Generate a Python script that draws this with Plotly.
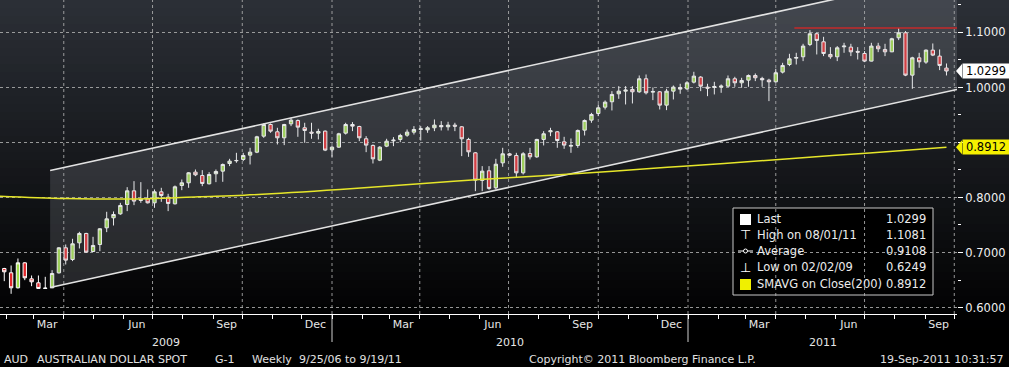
import plotly.graph_objects as go
import pandas as pd

# ---------------- data ----------------
first_week = "2009-01-30"
open_ = [0.6709, 0.6631, 0.6358, 0.6812, 0.6521, 0.6449, 0.6346, 0.6358, 0.6630, 0.7085,
         0.6873, 0.7176, 0.7346, 0.7018, 0.7146, 0.7449, 0.7631, 0.7703, 0.7873, 0.8121,
         0.7946, 0.7976, 0.7903, 0.8103, 0.8006, 0.7885, 0.8218, 0.8267, 0.8461, 0.8400,
         0.8249, 0.8431, 0.8479, 0.8618, 0.8667, 0.8691, 0.8770, 0.8824, 0.9115, 0.9327,
         0.9194, 0.9085, 0.9339, 0.9400, 0.9267, 0.9188, 0.9170, 0.9206, 0.8867, 0.8915,
         0.9170, 0.9327, 0.9291, 0.9067, 0.8946, 0.8679, 0.8933, 0.9030, 0.9055, 0.9133,
         0.9188, 0.9236, 0.9230, 0.9267, 0.9309, 0.9285, 0.9315, 0.9285, 0.9055, 0.8812,
         0.8310, 0.8485, 0.8176, 0.8630, 0.8794, 0.8764, 0.8448, 0.8800, 0.8739, 0.9055,
         0.9194, 0.9194, 0.9012, 0.8933, 0.8946, 0.9224, 0.9406, 0.9527, 0.9642, 0.9740,
         0.9885, 0.9933, 0.9964, 0.9921, 1.0158, 0.9915, 0.9921, 0.9679, 0.9933, 1.0000,
         0.9976, 1.0097, 1.0188, 1.0006, 1.0000, 1.0006, 1.0024, 1.0158, 1.0085, 1.0133,
         1.0218, 1.0164, 1.0133, 1.0103, 1.0279, 1.0418, 1.0533, 1.0558, 1.0782, 1.0976,
         1.0830, 1.0600, 1.0558, 1.0739, 1.0733, 1.0655, 1.0618, 1.0479, 1.0752, 1.0691,
         1.0648, 1.0903, 1.0994, 1.0224, 1.0539, 1.0461, 1.0679, 1.0570, 1.0352]
high_ = [0.6721, 0.6764, 0.6891, 0.6824, 0.6582, 0.6582, 0.6558, 0.6679, 0.7097, 0.7146,
         0.7249, 0.7376, 0.7358, 0.7285, 0.7443, 0.7740, 0.7746, 0.7903, 0.8188, 0.8297,
         0.8279, 0.8146, 0.8146, 0.8176, 0.8067, 0.8218, 0.8327, 0.8461, 0.8509, 0.8497,
         0.8461, 0.8509, 0.8618, 0.8703, 0.8812, 0.8812, 0.8903, 0.9121, 0.9346, 0.9346,
         0.9267, 0.9339, 0.9449, 0.9418, 0.9358, 0.9358, 0.9249, 0.9218, 0.8933, 0.9176,
         0.9358, 0.9370, 0.9303, 0.9115, 0.8964, 0.8933, 0.9067, 0.9097, 0.9158, 0.9236,
         0.9297, 0.9297, 0.9297, 0.9418, 0.9388, 0.9376, 0.9358, 0.9297, 0.9085, 0.8824,
         0.8570, 0.8570, 0.8703, 0.8903, 0.8812, 0.8812, 0.8824, 0.8903, 0.9067, 0.9206,
         0.9267, 0.9206, 0.9103, 0.9073, 0.9236, 0.9418, 0.9539, 0.9691, 0.9764, 0.9933,
         1.0024, 1.0024, 1.0024, 1.0218, 1.0236, 1.0000, 0.9933, 0.9976, 1.0036, 1.0067,
         1.0115, 1.0285, 1.0206, 1.0067, 1.0103, 1.0055, 1.0218, 1.0194, 1.0176, 1.0236,
         1.0255, 1.0194, 1.0158, 1.0339, 1.0448, 1.0612, 1.0630, 1.0794, 1.1042, 1.0994,
         1.0921, 1.0733, 1.0752, 1.0812, 1.0794, 1.0733, 1.0661, 1.0812, 1.0812, 1.0794,
         1.0903, 1.1081, 1.1024, 1.0558, 1.0630, 1.0691, 1.0800, 1.0691, 1.0436]
low_ = [0.6479, 0.6249, 0.6346, 0.6497, 0.6388, 0.6340, 0.6340, 0.6352, 0.6618, 0.6782,
        0.6843, 0.7073, 0.6994, 0.7012, 0.7024, 0.7370, 0.7491, 0.7685, 0.7752, 0.7861,
        0.7903, 0.7891, 0.7812, 0.7921, 0.7752, 0.7873, 0.8133, 0.8176, 0.8388, 0.8206,
        0.8237, 0.8279, 0.8285, 0.8570, 0.8631, 0.8661, 0.8600, 0.8806, 0.9085, 0.9176,
        0.8964, 0.8952, 0.9297, 0.9103, 0.8994, 0.9067, 0.9055, 0.8843, 0.8739, 0.8903,
        0.9145, 0.9206, 0.9024, 0.8824, 0.8618, 0.8661, 0.8915, 0.8933, 0.9006, 0.9103,
        0.9145, 0.9036, 0.9176, 0.9206, 0.9218, 0.9218, 0.9206, 0.8752, 0.8739, 0.8115,
        0.8115, 0.8140, 0.8145, 0.8558, 0.8752, 0.8358, 0.8418, 0.8691, 0.8721, 0.8946,
        0.9115, 0.8903, 0.8885, 0.8812, 0.8903, 0.9127, 0.9358, 0.9479, 0.9600, 0.9582,
        0.9794, 0.9691, 0.9709, 0.9903, 0.9873, 0.9770, 0.9600, 0.9588, 0.9782, 0.9885,
        0.9952, 1.0073, 0.9933, 0.9842, 0.9873, 0.9903, 1.0012, 1.0012, 0.9994, 1.0012,
        1.0115, 1.0012, 0.9752, 1.0085, 1.0255, 1.0388, 1.0418, 1.0479, 1.0752, 1.0600,
        1.0570, 1.0521, 1.0479, 1.0630, 1.0570, 1.0509, 1.0461, 1.0473, 1.0642, 1.0570,
        1.0642, 1.0861, 1.0206, 0.9976, 1.0358, 1.0430, 1.0570, 1.0315, 1.0218]
close_ = [0.6649, 0.6358, 0.6812, 0.6540, 0.6467, 0.6346, 0.6352, 0.6618, 0.7085, 0.6861,
          0.7158, 0.7346, 0.7006, 0.7128, 0.7431, 0.7612, 0.7691, 0.7855, 0.8121, 0.7934,
          0.7964, 0.7903, 0.8103, 0.8037, 0.7891, 0.8194, 0.8267, 0.8449, 0.8412, 0.8255,
          0.8418, 0.8473, 0.8600, 0.8661, 0.8673, 0.8764, 0.8824, 0.9103, 0.9327, 0.9206,
          0.9085, 0.9327, 0.9406, 0.9279, 0.9218, 0.9170, 0.9200, 0.8861, 0.8915, 0.9158,
          0.9327, 0.9297, 0.9085, 0.8952, 0.8703, 0.8915, 0.9024, 0.9042, 0.9127, 0.9188,
          0.9236, 0.9249, 0.9267, 0.9315, 0.9285, 0.9315, 0.9297, 0.9067, 0.8830, 0.8315,
          0.8479, 0.8165, 0.8605, 0.8794, 0.8770, 0.8448, 0.8794, 0.8739, 0.9055, 0.9158,
          0.9212, 0.9036, 0.8952, 0.8946, 0.9218, 0.9400, 0.9509, 0.9630, 0.9733, 0.9873,
          0.9933, 0.9952, 0.9921, 1.0158, 0.9903, 0.9927, 0.9679, 0.9933, 1.0006, 0.9970,
          1.0085, 1.0206, 1.0024, 0.9988, 1.0018, 1.0024, 1.0158, 1.0085, 1.0127, 1.0218,
          1.0176, 1.0139, 1.0103, 1.0267, 1.0400, 1.0521, 1.0545, 1.0752, 1.0976, 1.0855,
          1.0618, 1.0558, 1.0721, 1.0752, 1.0648, 1.0642, 1.0479, 1.0752, 1.0703, 1.0648,
          1.0885, 1.0994, 1.0224, 1.0539, 1.0467, 1.0679, 1.0588, 1.0400, 1.0299]
week_dates = pd.date_range(first_week, periods=len(close_), freq="7D")

sma_dates = ["2009-01-25", "2009-04-03", "2009-06-27", "2009-08-17", "2009-10-03",
             "2010-01-09", "2010-04-01", "2010-06-01", "2010-08-09", "2010-10-16",
             "2010-12-11", "2011-02-07", "2011-04-25", "2011-07-06", "2011-09-23"]
sma_vals = [0.8024, 0.7982, 0.7976, 0.8013, 0.8042,
            0.8145, 0.8250, 0.8325, 0.8400, 0.8479,
            0.8550, 0.8618, 0.8718, 0.8810, 0.8912]

channel_dates = ["2009-03-18", "2011-10-03 19:12"]
channel_lower = [0.6364, 0.9964]
channel_upper = [0.8490, 1.2090]

high_line_dates = ["2011-04-20", "2011-10-03 19:12"]
high_value = 1.1081
last_value = 1.0299
sma_last = 0.8912

legend_labels = ["Last", "High on 08/01/11", "Average", "Low on 02/02/09", "SMAVG on Close(200)"]
legend_values = ["1.0299", "1.1081", "0.9108", "0.6249", "0.8912"]

x_range = ["2009-01-25 14:34", "2011-10-03 19:12"]
y_range = [0.5882, 1.159]
y_tickvals = [0.6, 0.7, 0.8, 0.9, 1.0, 1.1]
y_ticktext = ["0.6000", "0.7000", "0.8000", "", "1.0000", "1.1000"]
month_label_dates = ["2009-03-15", "2009-06-15", "2009-09-15", "2009-12-15",
                     "2010-03-15", "2010-06-15", "2010-09-15", "2010-12-15",
                     "2011-03-15", "2011-06-15", "2011-09-15"]
month_labels = ["Mar", "Jun", "Sep", "Dec", "Mar", "Jun", "Sep", "Dec", "Mar", "Jun", "Sep"]
month_starts = [d.strftime("%Y-%m-%d") for d in pd.date_range("2009-02-01", "2011-10-01", freq="MS")]
quarter_starts = ["2009-04-01", "2009-07-01", "2009-10-01", "2010-01-01", "2010-04-01",
                  "2010-07-01", "2010-10-01", "2011-01-01", "2011-04-01", "2011-07-01", "2011-10-01"]
years = ["2009", "2010", "2011"]
year_starts = ["2010-01-01", "2011-01-01"]

# ---------------- geometry ----------------
W, H = 1009, 367
PL, PR, PT, PB = 0, 52, 0, 53
PW, PH = W - PL - PR, H - PT - PB


def px(xp):
    return (xp - PL) / PW


def py(yp):
    return (PT + PH - yp) / PH


FONT = "DejaVu Sans"
shapes = []
annotations = []

# background gradient
top_col = (44, 48, 55)
nb = 46
for i in range(nb):
    y0 = i * 8
    y1 = y0 + 8
    t = max(0.0, 1 - (y0 + 4) / 330.0)
    c = tuple(int(v * t) for v in top_col)
    shapes.append(dict(type="rect", xref="paper", yref="paper", x0=-0.01, x1=1.07,
                       y0=py(y1), y1=py(y0), fillcolor="rgb(%d,%d,%d)" % c,
                       line=dict(width=0), layer="below"))

# legend box
shapes.append(dict(type="rect", xref="paper", yref="paper", x0=px(733), x1=px(933),
                   y0=py(295), y1=py(208), fillcolor="black",
                   line=dict(color="#c8c8c8", width=1), layer="below"))

# quarter gridlines
for q in quarter_starts:
    shapes.append(dict(type="line", xref="x", yref="paper", x0=q, x1=q, y0=0, y1=1,
                       line=dict(color="rgba(175,175,175,0.85)", width=1, dash="dot"),
                       layer="below"))
# year dividers
for ys in year_starts:
    shapes.append(dict(type="line", xref="x", yref="paper", x0=ys, x1=ys, y0=0, y1=py(342),
                       line=dict(color="#cfcfcf", width=1), layer="below"))

# legend icons
rows_y = [219, 235, 251, 267, 284]
shapes.append(dict(type="rect", xref="paper", yref="paper", x0=px(740), x1=px(751),
                   y0=py(225), y1=py(214), fillcolor="white", line=dict(width=0)))
shapes.append(dict(type="rect", xref="paper", yref="paper", x0=px(740), x1=px(751),
                   y0=py(290), y1=py(279), fillcolor="#f0f000", line=dict(width=0)))
shapes.append(dict(type="line", xref="paper", yref="paper", x0=px(738), x1=px(753),
                   y0=py(251), y1=py(251), line=dict(color="white", width=1)))
shapes.append(dict(type="circle", xref="paper", yref="paper", x0=px(743.5), x1=px(747.5),
                   y0=py(253), y1=py(249), fillcolor="black", line=dict(color="white", width=1)))
annotations.append(dict(xref="paper", yref="paper", x=px(745.5), y=py(rows_y[1]), text="⊤",
                        showarrow=False, font=dict(family=FONT, size=13, color="white"),
                        xanchor="center", yanchor="middle"))
annotations.append(dict(xref="paper", yref="paper", x=px(745.5), y=py(rows_y[3]), text="⊥",
                        showarrow=False, font=dict(family=FONT, size=13, color="white"),
                        xanchor="center", yanchor="middle"))
for lab, val, ry in zip(legend_labels, legend_values, rows_y):
    annotations.append(dict(xref="paper", yref="paper", x=px(755), y=py(ry), text=lab,
                            showarrow=False, font=dict(family=FONT, size=11.5, color="#ececec"),
                            xanchor="left", yanchor="middle"))
    annotations.append(dict(xref="paper", yref="paper", x=px(928), y=py(ry), text=val,
                            showarrow=False, font=dict(family=FONT, size=11.5, color="#ececec"),
                            xanchor="right", yanchor="middle"))

# value flags on the right axis
for val, bg in [(last_value, "white"), (sma_last, "#f5f000")]:
    hh = 7.0 / 550
    shapes.append(dict(type="path", xref="paper", yref="y",
                       path="M %f,%f L %f,%f L %f,%f Z" % (px(956), val, px(962), val + hh,
                                                           px(962), val - hh),
                       fillcolor=bg, line=dict(width=0)))
    annotations.append(dict(xref="paper", yref="y", x=px(962), y=val, text="%.4f" % val,
                            showarrow=False, xanchor="left", yanchor="middle",
                            font=dict(family=FONT, size=11.5, color="black"),
                            bgcolor=bg, borderpad=1, width=44, height=12))

# year labels
x0d = pd.Timestamp(x_range[0])
x1d = pd.Timestamp(x_range[1])
bounds = [x0d, pd.Timestamp(year_starts[0]), pd.Timestamp(year_starts[1]), x1d]
for k, yr in enumerate(years):
    mid = bounds[k] + (bounds[k + 1] - bounds[k]) / 2
    annotations.append(dict(xref="x", yref="paper", x=mid, y=py(342), text=yr,
                            showarrow=False, font=dict(family=FONT, size=11, color="#e6e6e6"),
                            xanchor="center", yanchor="middle"))

# footer
footer = [("AUD", 2, "left"), ("AUSTRALIAN DOLLAR SPOT", 35, "left"), ("G-1", 213, "left"),
          ("Weekly", 250, "left"), ("9/25/06 to 9/19/11", 297, "left"),
          ("Copyright© 2011 Bloomberg Finance L.P.", 527, "left"),
          ("19-Sep-2011 10:31:57", 1006, "right")]
for txt, xp, anc in footer:
    annotations.append(dict(xref="paper", yref="paper", x=px(xp), y=py(359), text=txt,
                            showarrow=False, font=dict(family=FONT, size=11, color="#e0e0e0"),
                            xanchor=anc, yanchor="middle"))

# ---------------- traces ----------------
fig = go.Figure()
fig.add_trace(go.Scatter(
    x=[channel_dates[0], channel_dates[1], channel_dates[1], channel_dates[0]],
    y=[channel_lower[0], channel_lower[1], channel_upper[1], channel_upper[0]],
    fill="toself", fillcolor="rgba(150,155,162,0.22)", mode="none", hoverinfo="skip"))
fig.add_trace(go.Scatter(x=channel_dates, y=channel_upper, mode="lines",
                         line=dict(color="#e2e2e2", width=1.6), hoverinfo="skip"))
fig.add_trace(go.Scatter(x=channel_dates, y=channel_lower, mode="lines",
                         line=dict(color="#e2e2e2", width=1.6), hoverinfo="skip"))
fig.add_trace(go.Scatter(x=sma_dates, y=sma_vals, mode="lines",
                         line=dict(color="#e6e62a", width=1.5, shape="spline"), hoverinfo="skip"))
fig.add_trace(go.Scatter(x=high_line_dates, y=[high_value, high_value], mode="lines",
                         line=dict(color="#c42a2a", width=1.6), hoverinfo="skip"))
fig.add_trace(go.Candlestick(
    x=week_dates, open=open_, high=high_, low=low_, close=close_,
    increasing=dict(fillcolor="#a2de4a", line=dict(color="white", width=1)),
    decreasing=dict(fillcolor="#e3262a", line=dict(color="white", width=1)),
    whiskerwidth=0))

fig.update_layout(
    width=W, height=H, margin=dict(l=PL, r=PR, t=PT, b=PB),
    paper_bgcolor="black", plot_bgcolor="rgba(0,0,0,0)",
    showlegend=False, shapes=shapes, annotations=annotations,
    font=dict(family=FONT, color="#e6e6e6"),
    xaxis=dict(type="date", range=x_range, rangeslider=dict(visible=False),
               tickmode="array", tickvals=month_label_dates, ticktext=month_labels,
               ticks="", showgrid=False, zeroline=False,
               showline=True, linecolor="white", linewidth=1,
               tickfont=dict(family=FONT, size=11, color="#e6e6e6"),
               minor=dict(tickmode="array", tickvals=month_starts, ticks="outside",
                          ticklen=4, tickcolor="white", tickwidth=1, showgrid=False)),
    yaxis=dict(side="right", range=y_range, tickmode="array", tickvals=y_tickvals,
               ticktext=y_ticktext, ticks="outside", ticklen=5, tickcolor="white",
               showgrid=True, gridcolor="rgba(175,175,175,0.85)", griddash="dot",
               gridwidth=1, zeroline=False, showline=False,
               tickfont=dict(family=FONT, size=11.5, color="#f0f0f0"),
               minor=dict(dtick=0.05, tick0=0, ticks="outside", ticklen=3,
                          tickcolor="white", showgrid=False)),
)

fig.write_html("out.html")
